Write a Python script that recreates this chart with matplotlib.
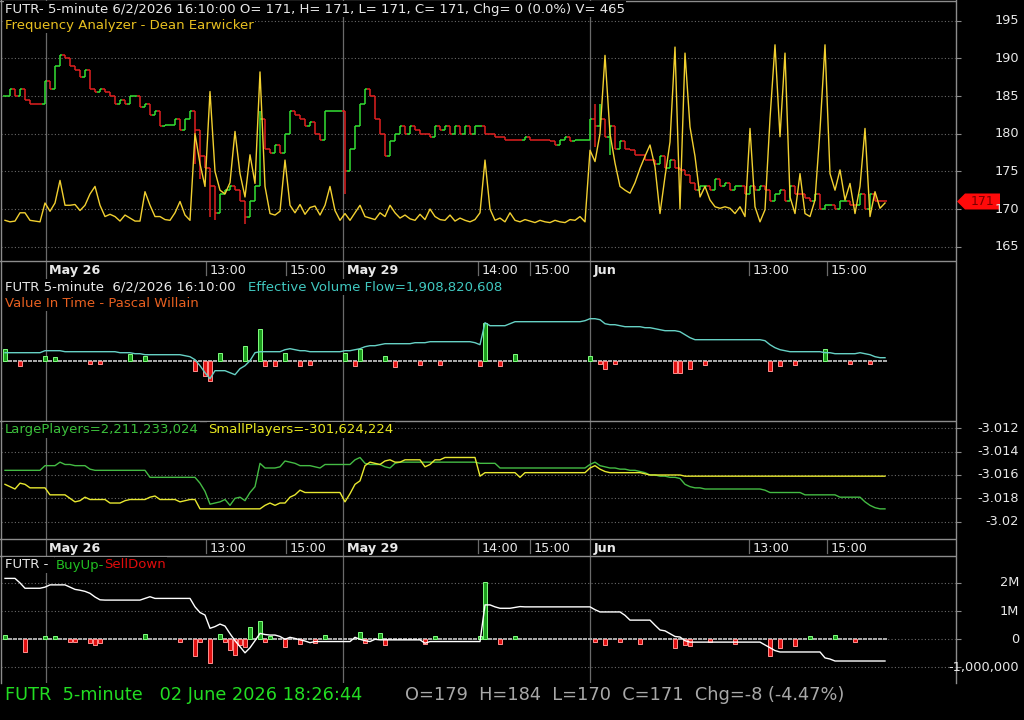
import numpy as np
import matplotlib
matplotlib.use("Agg")
import matplotlib.pyplot as plt
from matplotlib.collections import LineCollection
from matplotlib.lines import Line2D
from matplotlib.patches import Polygon, Rectangle
import matplotlib.transforms as mtransforms

# ---------------------------------------------------------------- data
# 5-minute bars (one value per bar)
price_close = [
    185, 186, 185, 186, 184.5, 184, 184, 184, 187, 186, 189, 190.5, 190, 189, 188.5, 187.5, 188.5, 186, 185.5, 186,
    185.5, 185, 184, 184.5, 184, 185, 185, 183.5, 184, 182.5, 183, 181, 181.2, 181.2, 182, 180.5, 182, 183, 180.5, 177,
    175.5, 173, 169.5, 172, 172.5, 173, 172.5, 171, 169, 171, 173, 182, 178, 177.5, 178.5, 177.5, 180, 183, 182.5, 182,
    181, 181.5, 180, 179.2, 183, 183, 183, 183, 175, 178, 181, 184, 186, 185, 182, 180, 177, 179, 180, 181,
    180, 181, 180.5, 180, 180, 179.5, 181, 180.5, 181, 180, 181, 180, 181, 180, 181, 181, 180, 180, 179.5, 179.5,
    179.2, 179.2, 179.2, 179.2, 179.5, 179.2, 179.2, 179.2, 179.2, 179, 178.5, 179.2, 179.5, 179, 179.2, 179.2, 179.2, 182, 181, 182,
    179.5, 181, 178, 179, 178, 177.8, 177.2, 177.2, 176.5, 176.5, 176, 177, 175.5, 176.5, 175.5, 175.2, 174.5, 173.5, 172.5, 173,
    173, 172.5, 174, 173, 173.5, 172.5, 173, 173, 172, 173, 172.5, 173, 172.5, 171, 172, 172.5, 171, 173, 172, 172,
    171.5, 171, 172, 170, 170.5, 170.5, 170, 171, 171, 170.5, 170.5, 172, 170, 172, 171, 171, 171,
]
# bars whose high/low reach beyond their open/close
wick_bar = [38, 39, 41, 42, 48, 51, 68, 118, 119, 121]
wick_high = [183, 180.5, 175.5, 172, 171, 183, 183, 184, 184, 181]
wick_low = [176, 174, 169, 168.5, 168, 173, 172, 178.3, 181, 177.2]

freq_analyzer = [
    168.5, 168.3, 168.4, 169.5, 169.5, 168.5, 168.4, 168.3, 170.8, 169.7, 170.8, 173.8, 170.5, 170.5, 170.6, 169.8, 170.5, 172.0, 173.0, 170.5,
    169.0, 169.3, 169.0, 168.4, 169.2, 168.8, 168.4, 168.4, 172.3, 170.5, 169.0, 169.0, 168.6, 168.5, 169.5, 171.0, 169.2, 168.5, 180.0, 176.0,
    173.0, 185.6, 175.0, 172.5, 172.0, 173.5, 180.3, 174.7, 171.6, 177.2, 173.4, 188.2, 173.0, 169.4, 169.2, 169.7, 176.5, 170.5, 169.5, 170.6,
    169.3, 170.2, 170.4, 169.2, 170.5, 173.0, 169.8, 168.5, 169.4, 168.5, 169.5, 170.5, 169.0, 168.8, 168.6, 169.5, 169.0, 170.5, 169.5, 168.8,
    169.2, 168.7, 168.5, 169.3, 168.6, 170.0, 169.0, 168.6, 168.5, 169.2, 168.4, 168.8, 168.5, 168.3, 168.6, 169.5, 176.5, 170.0, 168.5, 168.8,
    168.3, 169.5, 168.5, 168.3, 168.6, 168.4, 168.2, 168.5, 168.3, 168.2, 168.5, 168.3, 168.2, 168.6, 168.5, 169.0, 168.3, 177.8, 176.3, 180.0,
    190.4, 180.0, 176.1, 173.0, 172.5, 172.1, 173.5, 175.4, 177.0, 178.5, 175.6, 169.4, 174.3, 178.9, 191.5, 170.0, 190.7, 180.9, 177.0, 171.6,
    173.0, 171.2, 170.3, 170.1, 170.3, 170.1, 169.4, 170.3, 169.0, 180.7, 170.3, 168.3, 169.9, 182.0, 191.8, 179.6, 190.7, 171.6, 169.4, 174.7,
    169.4, 169.0, 171.2, 180.5, 191.8, 174.7, 172.5, 175.2, 171.2, 173.4, 169.4, 173.0, 180.7, 169.0, 172.3, 170.1, 170.8,
]

# Effective Volume Flow line and Value-In-Time histogram (panel 2, relative units)
evf_line = [
    8, 8, 8, 8, 8, 8, 8, 8, 10, 10, 10, 10, 9, 9, 9, 9, 9, 9, 9, 9,
    9, 9, 9, 8, 8, 8, 7, 7, 6, 6, 6, 6, 6, 6, 6, 6, 5, 4, 1, -5,
    -12, -18, -10, -10, -10, -12, -14, -8, -5, 0, 8, 9, 9, 9, 9, 9, 11, 12, 11, 10,
    10, 9, 9, 9, 9, 9, 9, 9, 10, 10, 11, 12, 14, 15, 15, 16, 17, 17, 17, 17,
    17, 17, 18, 18, 18, 19, 19, 19, 19, 19, 19, 19, 19, 19, 18, 16, 38, 35, 35, 35,
    35, 37, 39, 39, 39, 39, 39, 39, 39, 39, 39, 39, 39, 39, 39, 39, 40, 42, 42, 41,
    37, 36, 36, 35, 34, 34, 34, 34, 33, 33, 32, 31, 30, 30, 30, 29, 26, 23, 21, 21,
    21, 21, 21, 21, 21, 21, 21, 21, 21, 21, 21, 21, 20, 16, 13, 11, 10, 9, 9, 9,
    9, 9, 9, 9, 8, 8, 7, 7, 7, 7, 7, 8, 7, 6, 4, 3, 3,
]
vit_hist = [
    12, 0, 0, -5, 0, 0, 0, 0, 5, 0, 4, 0, 0, 0, 0, 0, 0, -3, 0, -3,
    0, 0, 0, 0, 0, 7, 0, 0, 5, 0, 0, 0, 0, 0, 0, 0, 0, 0, -10, 0,
    -15, -20, 0, 8, 0, 0, 0, 0, 15, 0, 0, 32, -5, 0, -5, 0, 8, 0, 0, -5,
    0, -4, 0, 0, 0, 0, 0, 0, 8, 0, -5, 12, 0, 0, 0, 0, 5, 0, -6, 0,
    0, 0, 0, -4, 0, 0, 0, -4, 0, 0, 0, 0, 0, 0, 0, -5, 38, 0, 0, -5,
    0, 0, 7, 0, 0, 0, 0, 0, 0, 0, 0, 0, 0, 0, 0, 0, 0, 5, 0, -3,
    -8, 0, -3, 0, 0, 0, 0, 0, 0, 0, 0, 0, 0, 0, -12, -12, 0, -8, 0, 0,
    -4, 0, 0, 0, 0, 0, 0, 0, 0, 0, 0, 0, 0, -10, 0, -5, 0, 0, -4, 0,
    0, 0, 0, 0, 12, 0, 0, 0, 0, -3, 0, 0, 0, -3, 0, 0, 0,
]

# Large / small players (panel 3, axis units)
large_players = [
    -3.0156, -3.0156, -3.0156, -3.0156, -3.0156, -3.0156, -3.0156, -3.0156, -3.0152, -3.0152, -3.0152, -3.0149, -3.0151, -3.0151, -3.0152, -3.0152, -3.0152, -3.0155, -3.0156, -3.0156,
    -3.0156, -3.0156, -3.0156, -3.0156, -3.0156, -3.0156, -3.0156, -3.0156, -3.0156, -3.0162, -3.0162, -3.0162, -3.0162, -3.0162, -3.0162, -3.0162, -3.0162, -3.0162, -3.0162, -3.0167,
    -3.0174, -3.0185, -3.0184, -3.0183, -3.0181, -3.0186, -3.0180, -3.0179, -3.0182, -3.0175, -3.0170, -3.0150, -3.0154, -3.0154, -3.0154, -3.0153, -3.0148, -3.0149, -3.0150, -3.0152,
    -3.0152, -3.0152, -3.0153, -3.0154, -3.0151, -3.0151, -3.0151, -3.0151, -3.0151, -3.0151, -3.0147, -3.0145, -3.0150, -3.0151, -3.0151, -3.0151, -3.0153, -3.0154, -3.0150, -3.0149,
    -3.0149, -3.0149, -3.0149, -3.0149, -3.0149, -3.0149, -3.0149, -3.0149, -3.0149, -3.0149, -3.0149, -3.0149, -3.0149, -3.0149, -3.0149, -3.0150, -3.0150, -3.0150, -3.0150, -3.0154,
    -3.0154, -3.0154, -3.0154, -3.0154, -3.0154, -3.0154, -3.0154, -3.0154, -3.0154, -3.0154, -3.0154, -3.0154, -3.0154, -3.0154, -3.0154, -3.0154, -3.0154, -3.0151, -3.0149, -3.0152,
    -3.0153, -3.0154, -3.0154, -3.0155, -3.0155, -3.0156, -3.0156, -3.0157, -3.0158, -3.0160, -3.0160, -3.0161, -3.0161, -3.0162, -3.0162, -3.0163, -3.0168, -3.0170, -3.0171, -3.0171,
    -3.0172, -3.0172, -3.0172, -3.0172, -3.0172, -3.0172, -3.0172, -3.0172, -3.0172, -3.0172, -3.0172, -3.0172, -3.0173, -3.0175, -3.0175, -3.0175, -3.0175, -3.0175, -3.0175, -3.0175,
    -3.0177, -3.0177, -3.0177, -3.0177, -3.0177, -3.0177, -3.0177, -3.0179, -3.0179, -3.0179, -3.0179, -3.0179, -3.0183, -3.0186, -3.0188, -3.0189, -3.0189,
]
small_players = [
    -3.0168, -3.0170, -3.0172, -3.0167, -3.0168, -3.0171, -3.0171, -3.0171, -3.0171, -3.0177, -3.0177, -3.0177, -3.0177, -3.0180, -3.0183, -3.0182, -3.0179, -3.0181, -3.0181, -3.0181,
    -3.0181, -3.0184, -3.0184, -3.0184, -3.0182, -3.0181, -3.0181, -3.0181, -3.0181, -3.0179, -3.0178, -3.0181, -3.0181, -3.0181, -3.0181, -3.0183, -3.0182, -3.0181, -3.0181, -3.0189,
    -3.0189, -3.0189, -3.0189, -3.0189, -3.0189, -3.0189, -3.0189, -3.0189, -3.0189, -3.0189, -3.0189, -3.0189, -3.0186, -3.0184, -3.0186, -3.0184, -3.0184, -3.0179, -3.0177, -3.0173,
    -3.0175, -3.0175, -3.0175, -3.0175, -3.0175, -3.0175, -3.0175, -3.0175, -3.0183, -3.0176, -3.0168, -3.0165, -3.0152, -3.0149, -3.0150, -3.0151, -3.0148, -3.0147, -3.0149, -3.0149,
    -3.0147, -3.0147, -3.0147, -3.0147, -3.0153, -3.0151, -3.0147, -3.0147, -3.0145, -3.0145, -3.0145, -3.0145, -3.0145, -3.0145, -3.0145, -3.0161, -3.0158, -3.0158, -3.0158, -3.0158,
    -3.0158, -3.0158, -3.0158, -3.0162, -3.0158, -3.0158, -3.0158, -3.0158, -3.0158, -3.0158, -3.0158, -3.0158, -3.0158, -3.0158, -3.0158, -3.0158, -3.0158, -3.0154, -3.0152, -3.0155,
    -3.0157, -3.0158, -3.0158, -3.0158, -3.0158, -3.0158, -3.0158, -3.0158, -3.0159, -3.0160, -3.0160, -3.0160, -3.0160, -3.0160, -3.0160, -3.0160, -3.0161, -3.0161, -3.0161, -3.0161,
    -3.0161, -3.0161, -3.0161, -3.0161, -3.0161, -3.0161, -3.0161, -3.0161, -3.0161, -3.0161, -3.0161, -3.0161, -3.0161, -3.0161, -3.0161, -3.0161, -3.0161, -3.0161, -3.0161, -3.0161,
    -3.0161, -3.0161, -3.0161, -3.0161, -3.0161, -3.0161, -3.0161, -3.0161, -3.0161, -3.0161, -3.0161, -3.0161, -3.0161, -3.0161, -3.0161, -3.0161, -3.0161,
]

# BuyUp-SellDown (panel 4, millions)
buyup_line_m = [
    2.16, 2.16, 2.16, 2.0, 1.81, 1.81, 1.81, 1.81, 1.85, 1.93, 1.93, 1.93, 1.93, 1.85, 1.77, 1.74, 1.70, 1.63, 1.50, 1.40,
    1.39, 1.39, 1.39, 1.39, 1.39, 1.39, 1.39, 1.39, 1.45, 1.51, 1.45, 1.45, 1.45, 1.45, 1.45, 1.45, 1.45, 1.45, 1.15, 0.95,
    0.86, 0.39, 0.45, 0.54, 0.47, 0.2, -0.05, -0.26, -0.48, -0.3, -0.05, 0.21, 0.17, 0.15, 0.15, 0.1, 0.0, 0.07, 0.03, -0.02,
    -0.06, -0.12, -0.08, -0.08, -0.08, -0.08, -0.08, -0.08, -0.08, -0.08, 0.07, 0.0, -0.05, -0.08, 0.0, -0.02, -0.02, -0.02, -0.02, -0.02,
    -0.02, -0.02, -0.02, -0.02, -0.14, -0.08, -0.08, -0.08, -0.08, -0.08, -0.08, -0.08, -0.08, -0.08, -0.08, -0.08, 1.22, 1.22, 1.15, 1.1,
    1.1, 1.1, 1.13, 1.16, 1.15, 1.15, 1.15, 1.15, 1.15, 1.15, 1.15, 1.15, 1.15, 1.15, 1.15, 1.15, 1.15, 1.15, 1.05, 0.97,
    0.97, 0.97, 0.97, 0.97, 0.85, 0.68, 0.68, 0.68, 0.68, 0.68, 0.5, 0.33, 0.3, 0.2, 0.1, 0.08, -0.05, -0.1, -0.1, -0.1,
    -0.1, -0.1, -0.1, -0.1, -0.1, -0.1, -0.1, -0.1, -0.1, -0.1, -0.1, -0.1, -0.2, -0.3, -0.4, -0.45, -0.45, -0.45, -0.45, -0.45,
    -0.45, -0.45, -0.45, -0.45, -0.66, -0.7, -0.77, -0.77, -0.77, -0.77, -0.77, -0.77, -0.77, -0.77, -0.77, -0.77, -0.77,
]
buyup_hist_m = [
    0.15, 0, 0, 0, -0.44, 0, 0, 0, 0.1, 0, 0.1, 0, 0, -0.08, -0.08, 0, 0, -0.14, -0.2, -0.14,
    0, 0, 0, 0, 0, 0, 0, 0, 0.19, 0, 0, 0, 0, 0, 0, -0.08, 0, 0, -0.59, -0.08,
    0, -0.85, 0, 0.2, -0.08, -0.38, -0.56, -0.2, -0.28, 0.42, 0, 0.66, -0.08, 0.1, 0, 0, -0.28, 0, 0, -0.15,
    0, 0, -0.12, 0, 0.15, 0, 0, 0, 0, 0, 0, 0.27, -0.14, 0, 0, 0.23, -0.2, 0, 0, 0,
    0, 0, 0, 0, -0.16, 0, 0.1, 0, 0, 0, 0, 0, 0, 0, 0, 0.1, 2.04, 0, 0, -0.18,
    0, 0, 0.12, 0, 0, 0, 0, 0, 0, 0, 0, 0, 0, 0, 0, 0, 0, 0, -0.1, 0,
    -0.2, 0, 0, -0.1, 0, 0, 0, -0.15, 0, 0, 0, 0, 0, 0, -0.3, 0, -0.2, -0.25, 0, 0,
    0, -0.1, 0, 0, 0, 0, -0.15, 0, 0, 0, 0, 0, 0, -0.6, 0, -0.3, 0, 0, -0.25, 0,
    0, 0.1, 0, 0, 0, 0, 0.15, 0, 0, 0, -0.1, 0, 0, 0, 0, 0, 0,
]

price_ticks = [165, 170, 175, 180, 185, 190, 195]
players_ticks = [-3.012, -3.014, -3.016, -3.018, -3.020]
players_labels = ["-3.012", "-3.014", "-3.016", "-3.018", "-3.02"]
buyup_ticks = [2, 1, 0, -1]
buyup_labels = ["2M", "1M", "0", "-1,000,000"]
time_pos = [8.14, 40.14, 56.14, 67.66, 94.54, 105.0, 117.0, 148.8, 164.4]
time_labels = ["May 26", "13:00", "15:00", "May 29", "14:00", "15:00", "Jun", "13:00", "15:00"]
day_start = [True, False, False, True, False, False, True, False, False]

# ---------------------------------------------------------------- style
W, H = 1024, 720
BG = "black"
BORDER = "#8c8c8c"
VLINE = "#6a6a6a"
GRID = "#6a6a6a"
TXT = "#e8e8e8"
UP = "#33e033"
DOWN = "#e02020"
XL = (-0.8, 190.0)
HDR = 9.5

fig = plt.figure(figsize=(W / 100, H / 100), dpi=100, facecolor=BG)


def px_axes(x0, y0, x1, y1):
    ax = fig.add_axes([x0 / W, 1 - y1 / H, (x1 - x0) / W, (y1 - y0) / H])
    ax.set_facecolor(BG)
    for s in ax.spines.values():
        s.set_visible(False)
    ax.set_xlim(*XL)
    ax.set_xticks([])
    ax.set_yticks([])
    return ax


def day_lines(ax):
    for p, d in zip(time_pos, day_start):
        if d:
            ax.axvline(p, color=VLINE, lw=0.9, zorder=0.5)


def right_axis(ax, ticks, labels, grid=True):
    ax.set_yticks(ticks)
    ax.tick_params(axis="y", left=False, right=True, labelleft=False, labelright=False,
                   length=4, width=0.8, color=BORDER, direction="out")
    if grid:
        for t in ticks:
            ax.axhline(t, color=GRID, lw=0.8, linestyle=(0, (1, 2)), zorder=0.4)
    tr = mtransforms.blended_transform_factory(fig.transFigure, ax.transData)
    for t, lab in zip(ticks, labels):
        fig.text(1019 / W, t, lab, transform=tr, ha="right", va="center",
                 color=TXT, fontsize=9.3)


def ftext(x, y, s, color, size=HDR, weight="normal", box=True):
    kw = dict(color=color, fontsize=size, fontweight=weight, ha="left", va="center")
    if box:
        kw["bbox"] = dict(facecolor=BG, edgecolor="none", pad=1.0)
    return fig.text(x / W, 1 - y / H, s, **kw)


def black_band(x0, y0, x1, y1):
    fig.add_artist(Rectangle((x0 / W, 1 - y1 / H), (x1 - x0) / W, (y1 - y0) / H,
                             transform=fig.transFigure, facecolor=BG, edgecolor="none",
                             zorder=2.5))


n = np.arange(len(price_close))

# ---------------------------------------------------------------- panel 1 : price
ax1 = px_axes(1, 0, 955, 261)
ax1.set_ylim(163.1, 197.75)
day_lines(ax1)
right_axis(ax1, price_ticks, [str(t) for t in price_ticks])

closes = np.array(price_close, dtype=float)
opens = np.concatenate([[closes[0]], closes[:-1]])
highs = np.maximum(opens, closes)
lows = np.minimum(opens, closes)
for i, hi, lo in zip(wick_bar, wick_high, wick_low):
    highs[i] = max(highs[i], hi)
    lows[i] = min(lows[i], lo)
segs, cols = [], []
prev_col = UP
for i in range(len(closes)):
    o, c = opens[i], closes[i]
    col = UP if c > o else (DOWN if c < o else prev_col)
    prev_col = col
    segs += [[(i, lows[i]), (i, highs[i])], [(i - 0.5, o), (i, o)], [(i, c), (i + 0.5, c)]]
    cols += [col, col, col]
ax1.add_collection(LineCollection(segs, colors=cols, linewidths=1.1, zorder=2))
ax1.plot(n, freq_analyzer, color="#f2d030", lw=1.0, zorder=3)

# last value marker
yc = ax1.transData.transform((0, price_close[-1]))[1]
poly = Polygon([(957, yc), (965, yc + 8), (1000, yc + 8), (1000, yc - 8), (965, yc - 8)],
               closed=True, facecolor="#ff0a0a", edgecolor="none",
               transform=mtransforms.IdentityTransform())
fig.add_artist(poly)
fig.text(983 / W, yc / H, f"{price_close[-1]:g}", color="#7a0000", fontsize=9,
         ha="center", va="center")

ftext(5, 9, "FUTR- 5-minute 6/2/2026 16:10:00 O= 171, H= 171, L= 171, C= 171, Chg= 0 (0.0%) V= 465", TXT)
ftext(5, 25, "Frequency Analyzer - Dean Earwicker", "#e8c020")

# ---------------------------------------------------------------- time strips
for (ya, yb) in [(261, 279), (539, 556)]:
    s = px_axes(1, ya, 955, yb)
    s.set_ylim(0, 1)
    tr = mtransforms.blended_transform_factory(s.transData, s.transAxes)
    for p, lab, d in zip(time_pos, time_labels, day_start):
        if d:
            s.axvline(p, color=VLINE, lw=0.9)
        else:
            s.axvline(p, ymin=0.2, ymax=1.0, color=VLINE, lw=0.9)
        s.text(p + 0.7, 0.45, lab, transform=tr, color=TXT, fontsize=9.2,
               fontweight="bold" if d else "normal", ha="left", va="center")

# ---------------------------------------------------------------- panel 2 : EVF / VIT
ax2 = px_axes(1, 279, 955, 421)
ax2.set_ylim(-60.3, 81.7)
day_lines(ax2)
vh = np.array(vit_hist, dtype=float)
ax2.bar(n, 2.4, bottom=-1.2, width=0.86, color="#a8a8a8", zorder=1)
pos = vh > 0
neg = vh < 0
ax2.bar(n[pos], vh[pos], width=0.62, color="#1c9c1c", edgecolor="#80ff80", lw=0.7, zorder=2)
ax2.bar(n[neg], vh[neg], width=0.62, color="#e01010", edgecolor="#ff9090", lw=0.7, zorder=2)
ax2.plot(n, evf_line, color="#66d0c4", lw=1.0, zorder=3)

ftext(5, 287, "FUTR 5-minute  6/2/2026 16:10:00", TXT)
ftext(248, 287, "Effective Volume Flow=1,908,820,608", "#40c8c0")
ftext(5, 303, "Value In Time - Pascal Willain", "#e86020")

# ---------------------------------------------------------------- panel 3 : players
ax3 = px_axes(1, 421, 955, 539)
ax3.set_ylim(-3.021482, -3.011375)
day_lines(ax3)
right_axis(ax3, players_ticks, players_labels)
ax3.plot(n, large_players, color="#44bb44", lw=1.0, zorder=3)
ax3.plot(n, small_players, color="#e8e830", lw=1.0, zorder=3)
black_band(3, 423, 388, 437)
ftext(5, 430, "LargePlayers=2,211,233,024", "#3cc03c")
ftext(208, 430, "SmallPlayers=-301,624,224", "#e8e820")

# ---------------------------------------------------------------- panel 4 : BuyUp-SellDown
ax4 = px_axes(1, 556, 955, 683)
ax4.set_ylim(-1.55, 2.954)
day_lines(ax4)
right_axis(ax4, buyup_ticks, buyup_labels)
bh = np.array(buyup_hist_m, dtype=float)
ax4.bar(n, 0.085, bottom=-0.042, width=0.86, color="#a8a8a8", zorder=1)
pos = bh > 0
neg = bh < 0
ax4.bar(n[pos], bh[pos], width=0.62, color="#1c9c1c", edgecolor="#80ff80", lw=0.7, zorder=2)
ax4.bar(n[neg], bh[neg], width=0.62, color="#e01010", edgecolor="#ff9090", lw=0.7, zorder=2)
ax4.plot(n, buyup_line_m, color="white", lw=1.0, zorder=3)
ftext(5, 565, "FUTR - ", TXT)
ftext(56, 565, "BuyUp-", "#22c022")
ftext(104, 565, "SellDown", "#e00c0c")

# ---------------------------------------------------------------- frame lines
def hline(y, x0=0, x1=955):
    fig.add_artist(Line2D([x0 / W, x1 / W], [1 - y / H, 1 - y / H], color=BORDER, lw=1.0,
                          transform=fig.transFigure))


def vline(x, y0, y1):
    fig.add_artist(Line2D([x / W, x / W], [1 - y0 / H, 1 - y1 / H], color=BORDER, lw=1.0,
                          transform=fig.transFigure))


hline(0.5)
for y in (261, 421, 539, 556):
    hline(y)
vline(1, 0, 683)
vline(955.5, 0, 683)

# ---------------------------------------------------------------- status line
ftext(5, 695, "FUTR  5-minute   02 June 2026 18:26:44", "#22dd22", size=12.8, box=False)
ftext(405, 695, "O=179  H=184  L=170  C=171  Chg=-8 (-4.47%)", "#a8a8a8", size=12.8, box=False)

fig.savefig("out.png", dpi=100, facecolor=BG)
